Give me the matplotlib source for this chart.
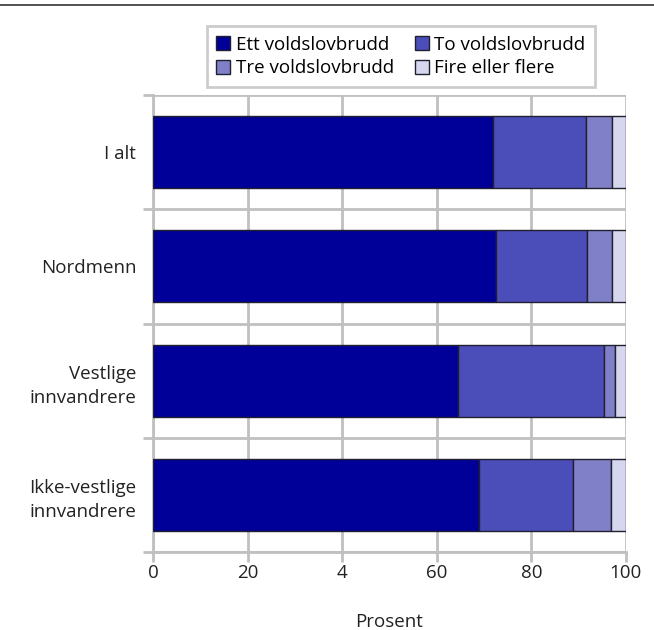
import numpy as np
import matplotlib.pyplot as plt
from matplotlib.lines import Line2D

plt.rcParams['font.family'] = ['Open Sans', 'DejaVu Sans']

# Data (prosent)
groups = ['I alt', 'Nordmenn', 'Vestlige\ninnvandrere', 'Ikke-vestlige\ninnvandrere']
series = ['Ett voldslovbrudd', 'To voldslovbrudd', 'Tre voldslovbrudd', 'Fire eller flere']
ett = [72.0, 72.5, 64.4, 69.0]
to = [19.5, 19.2, 30.9, 19.9]
tre = [5.5, 5.3, 2.4, 7.9]
fire = [3.0, 3.0, 2.3, 3.2]
xticks = [0, 20, 40, 60, 80, 100]
xticklabels = ['0', '20', '4', '60', '80', '100']

colors = ['#000099', '#4b4eb8', '#8080c8', '#d6d6ee']
grid_col = '#c0c0c0'
txt_col = '#222222'

fig = plt.figure(figsize=(6.54, 6.30), dpi=100)
ax = fig.add_axes([0.234, 0.124, 0.723, 0.725])

y = np.arange(len(groups))
left = np.zeros(len(groups))
bars = []
for vals, name, c in zip([ett, to, tre, fire], series, colors):
    b = ax.barh(y, vals, left=left, height=0.63, color=c, edgecolor='#202030',
                linewidth=1.0, label=name, zorder=3)
    bars.append(b)
    left += np.array(vals)

ax.set_xlim(0, 100)
ax.set_ylim(len(groups) - 0.5, -0.5)

ax.set_xticks(xticks)
ax.set_xticklabels(xticklabels, fontsize=13.5, color=txt_col)
ax.set_yticks(y)
ax.set_yticklabels(groups, fontsize=13.5, color=txt_col, linespacing=1.45)
ax.tick_params(axis='y', which='major', length=0, pad=12)
ax.set_yticks(np.arange(-0.5, len(groups)), minor=True)
ax.tick_params(axis='y', which='minor', length=7, color=grid_col, width=2)
ax.tick_params(axis='x', length=7, color=grid_col, width=2, pad=2)

ax.grid(axis='x', color=grid_col, linewidth=2, zorder=0)
ax.grid(axis='y', which='minor', color=grid_col, linewidth=2, zorder=0)

for s in ['top', 'right']:
    ax.spines[s].set_visible(False)
for s in ['left', 'bottom']:
    ax.spines[s].set_color(grid_col)
    ax.spines[s].set_linewidth(2)

ax.set_xlabel('Prosent', fontsize=13.5, color=txt_col, labelpad=22)

# legend fills row by row in the original
order = [0, 2, 1, 3]
leg = fig.legend([bars[i] for i in order], [series[i] for i in order],
                 loc='upper center', bbox_to_anchor=(0.613, 0.958), ncol=2,
                 fontsize=13.5, frameon=True, fancybox=False, handlelength=0.75,
                 handleheight=0.75, handletextpad=0.3, columnspacing=1.1,
                 borderpad=0.5, labelspacing=0.3, borderaxespad=0)
leg.get_frame().set_edgecolor(grid_col)
leg.get_frame().set_linewidth(2)
for h in leg.legend_handles:
    h.set_edgecolor('#202030')

fig.add_artist(Line2D([0, 1], [0.992, 0.992], color='#333333', linewidth=1.2))

fig.savefig('out.png', dpi=100)
